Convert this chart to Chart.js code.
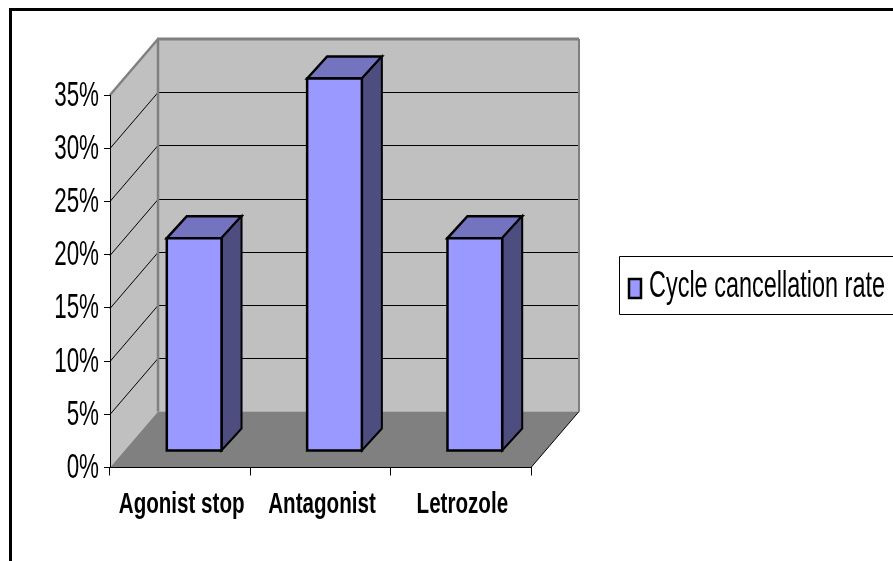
<!DOCTYPE html>
<html>
<head>
<meta charset="utf-8">
<script src="https://cdn.jsdelivr.net/npm/chart.js@4/dist/chart.umd.js"></script>
<style>
  html, body { margin: 0; padding: 0; background: #fff; overflow: hidden; }
  canvas { display: block; }
</style>
</head>
<body>
<canvas id="chart" width="893" height="561"></canvas>
<script>
const categories = ['Agonist stop', 'Antagonist', 'Letrozole'];
const cancellationRate = [20, 35, 20];
const seriesName = 'Cycle cancellation rate';

// box depth of the fake 3D plot, in pixels
const wallDx = 48, wallDy = -56;
const barDx = 20, barDy = -22;
const barShiftX = 14, barShiftY = -16.5;

function poly(ctx, pts, fill, stroke, lw) {
  ctx.beginPath();
  pts.forEach((p, i) => i ? ctx.lineTo(p[0], p[1]) : ctx.moveTo(p[0], p[1]));
  ctx.closePath();
  if (fill) { ctx.fillStyle = fill; ctx.fill(); }
  if (stroke) { ctx.strokeStyle = stroke; ctx.lineWidth = lw; ctx.lineJoin = 'miter'; ctx.stroke(); }
}

function line(ctx, x1, y1, x2, y2, color, lw) {
  ctx.beginPath();
  ctx.moveTo(x1, y1);
  ctx.lineTo(x2, y2);
  ctx.strokeStyle = color;
  ctx.lineWidth = lw;
  ctx.stroke();
}

// squeezed text: the picture's labels are about 70% of their normal width
function squeezed(ctx, text, x, y, k) {
  ctx.fillText(text, x, y, ctx.measureText(text).width * k);
}

const plot3d = {
  id: 'plot3d',
  beforeDraw(chart) {
    const { ctx, chartArea: a, scales: { y } } = chart;
    const bx = a.left + wallDx, tx = a.right + wallDx;
    const by = a.bottom + wallDy, ty = a.top + wallDy;
    ctx.save();
    ctx.fillStyle = '#fff';
    ctx.fillRect(0, 0, chart.width, chart.height);

    poly(ctx, [[bx, ty], [tx, ty], [tx, by], [bx, by]], '#C0C0C0');
    poly(ctx, [[a.left, a.top], [bx, ty], [bx, by], [a.left, a.bottom]], '#C0C0C0');
    poly(ctx, [[a.left, a.bottom], [bx, by], [tx, by], [a.right, a.bottom]], '#808080');

    // grid lines run along the side wall and the back wall
    y.ticks.forEach(t => {
      if (t.value === 0 || t.value === y.max) return;
      const py = Math.round(y.getPixelForValue(t.value) + wallDy) + 0.5;
      line(ctx, a.left, py - wallDy, bx, py, '#000', 1);
      line(ctx, bx, py, tx, py, '#000', 1);
    });

    line(ctx, a.left, a.top, bx, ty, '#808080', 2.5);
    line(ctx, bx - 1, ty, tx, ty, '#808080', 3);
    line(ctx, bx, ty, bx, by, '#808080', 2.5);
    line(ctx, tx, ty, tx, by, '#808080', 2);
    line(ctx, a.right, a.bottom, tx, by, '#000', 1);
    ctx.restore();
  },
  beforeDatasetsDraw(chart) {
    const ctx = chart.ctx;
    ctx.save();
    ctx.translate(barShiftX, barShiftY);
    chart.getDatasetMeta(0).data.forEach(bar => {
      const l = bar.x - bar.width / 2, r = bar.x + bar.width / 2;
      poly(ctx, [[l, bar.y], [l + barDx, bar.y + barDy], [r + barDx, bar.y + barDy], [r, bar.y]], '#7373BF', '#000', 2.5);
      poly(ctx, [[r, bar.y], [r + barDx, bar.y + barDy], [r + barDx, bar.base + barDy], [r, bar.base]], '#4D4D80', '#000', 2);
    });
    ctx.restore();
  },
  beforeDatasetDraw(chart) {
    chart.ctx.save();
    chart.ctx.translate(barShiftX, barShiftY);
  },
  afterDatasetDraw(chart) {
    const ctx = chart.ctx;
    // outline sits centred on the bar edge, the bars' own border would go inside it
    chart.getDatasetMeta(0).data.forEach(bar => {
      const l = bar.x - bar.width / 2, r = bar.x + bar.width / 2;
      poly(ctx, [[l, bar.y], [r, bar.y], [r, bar.base], [l, bar.base]], null, '#000', 2.5);
    });
    ctx.restore();
  },
  afterDraw(chart) {
    const { ctx, scales: { x, y } } = chart;
    ctx.save();
    ctx.fillStyle = '#000';

    ctx.textAlign = 'right';
    ctx.textBaseline = 'alphabetic';
    ctx.font = '35px "Liberation Sans"';
    y.ticks.forEach(t => {
      squeezed(ctx, t.label, 99, y.getPixelForValue(t.value) + 10.5, 0.64);
    });

    ctx.textAlign = 'center';
    ctx.font = 'bold 29px "Liberation Sans"';
    x.ticks.forEach((t, i) => {
      squeezed(ctx, t.label, x.getPixelForTick(i) + 1.5, 513, 0.71);
    });

    // frame
    line(ctx, 10.5, 8, 10.5, chart.height, '#000', 3);
    line(ctx, 9, 9.5, chart.width, 9.5, '#000', 3);

    // legend, the box runs off the right side
    ctx.fillStyle = '#fff';
    ctx.beginPath();
    ctx.rect(619.5, 256.5, 300, 58);
    ctx.fill();
    ctx.strokeStyle = '#000';
    ctx.lineWidth = 1;
    ctx.stroke();
    ctx.fillStyle = '#9999FF';
    ctx.lineWidth = 2.5;
    ctx.beginPath();
    ctx.rect(629, 279, 12, 19);
    ctx.fill();
    ctx.stroke();
    ctx.fillStyle = '#000';
    ctx.textAlign = 'left';
    ctx.font = '36px "Liberation Sans"';
    ctx.fillText(seriesName, 649, 297, 236);
    ctx.restore();
  }
};

new Chart(document.getElementById('chart'), {
  type: 'bar',
  data: {
    labels: categories,
    datasets: [{
      label: seriesName,
      data: cancellationRate,
      backgroundColor: '#9999FF',
      borderWidth: 0,
      categoryPercentage: 0.39,
      barPercentage: 1,
      clip: false
    }]
  },
  options: {
    responsive: false,
    animation: false,
    layout: { padding: { left: 104, top: 95, right: 362, bottom: 85.5 } },
    plugins: { legend: { display: false }, tooltip: { enabled: false } },
    scales: {
      x: {
        grid: { drawOnChartArea: false, color: '#000', tickLength: 8 },
        border: { color: '#000', width: 1 },
        ticks: { display: false }
      },
      y: {
        min: 0,
        max: 35,
        grid: { drawOnChartArea: false, color: '#000', tickLength: 6 },
        border: { color: '#000', width: 1 },
        ticks: { display: false, stepSize: 5, callback: v => v + '%' }
      }
    }
  },
  plugins: [plot3d]
});
</script>
</body>
</html>
